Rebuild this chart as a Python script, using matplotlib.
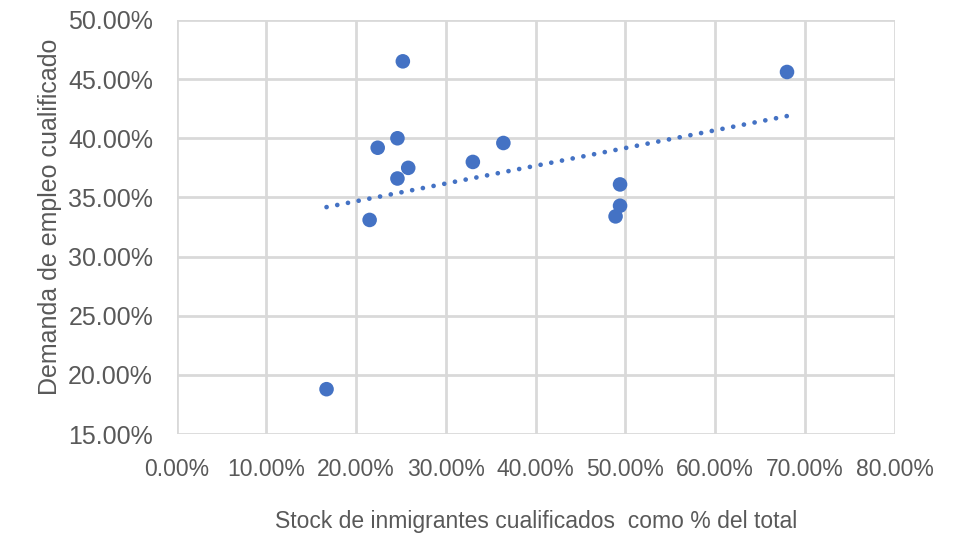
import matplotlib
matplotlib.use('Agg')
import matplotlib.pyplot as plt
import numpy as np
from matplotlib.ticker import PercentFormatter

# Data (percent)
stock_cualificados = [16.7, 21.5, 22.4, 24.6, 24.6, 25.2, 25.8, 33.0, 36.4, 48.9, 49.4, 49.4, 68.0]
demanda_empleo = [18.8, 33.1, 39.2, 40.0, 36.6, 46.5, 37.5, 38.0, 39.6, 33.4, 34.3, 36.1, 45.6]

x_ticks = np.arange(0, 81, 10)
y_ticks = np.arange(15, 51, 5)

blue = '#4472C4'
grid_col = '#D9D9D9'
text_col = '#595959'

fig = plt.figure(figsize=(9.6, 5.38), dpi=100)
ax = fig.add_axes([0.184, 0.193, 0.748, 0.770])

x = np.array(stock_cualificados)
y = np.array(demanda_empleo)

# Linear trendline
slope, intercept = np.polyfit(x, y, 1)
xt = np.array([x.min(), x.max()])
ax.plot(xt, slope * xt + intercept, color=blue, lw=3.4,
        linestyle=(0, (0.01, 2.3)), dash_capstyle='round', zorder=2)

ax.scatter(x, y, s=110, color=blue, edgecolors='none', zorder=3)

ax.set_xlim(0, 80)
ax.set_ylim(15, 50)
ax.set_xticks(x_ticks)
ax.set_yticks(y_ticks)
ax.xaxis.set_major_formatter(PercentFormatter(decimals=2))
ax.yaxis.set_major_formatter(PercentFormatter(decimals=2))

ax.grid(True, color=grid_col, lw=2)
ax.set_axisbelow(True)
for side in ax.spines:
    ax.spines[side].set_visible(False)
ax.tick_params(axis='y', length=0, pad=17)
ax.tick_params(axis='x', length=0, pad=17)

for lbl in ax.get_yticklabels():
    lbl.set_fontfamily('Liberation Sans')
    lbl.set_fontsize(18)
    lbl.set_color(text_col)
for lbl in ax.get_xticklabels():
    lbl.set_fontfamily('Liberation Sans')
    lbl.set_fontsize(16.5)
    lbl.set_color(text_col)

ax.set_ylabel('Demanda de empleo cualificado', fontsize=18, color=text_col,
              family='Liberation Sans', labelpad=4, y=0.525)
ax.set_xlabel('Stock de inmigrantes cualificados  como % del total', fontsize=16.5,
              color=text_col, family='Liberation Sans', labelpad=21)

fig.savefig('out.png', dpi=100)
